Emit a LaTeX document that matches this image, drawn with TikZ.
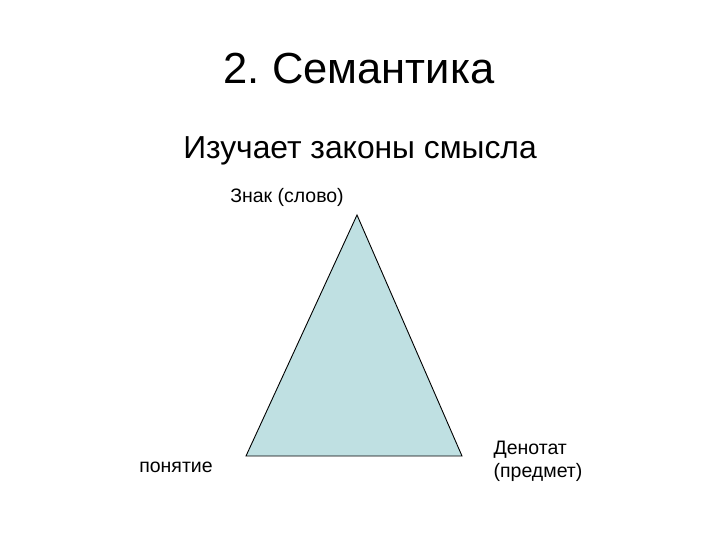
\documentclass[tikz,border=0pt]{standalone}
\usepackage{fontspec}
\setmainfont{Liberation Sans}
\usepackage{xcolor}
\usepackage{tikz}
\usetikzlibrary{positioning}

\definecolor{triblue}{RGB}{191,224,226}
\frenchspacing

\begin{document}
\begin{tikzpicture}[
        x=1pt, y=-1pt,
        title/.style={font=\fontsize{43.5}{52}\selectfont},
        subtitle/.style={font=\fontsize{31.8}{36}\selectfont},
        label/.style={font=\fontsize{19.5}{23}\selectfont, align=left, inner sep=0pt},
        tri/.style={draw, fill=triblue, line width=0.9pt}
    ]
        \useasboundingbox (0,0) rectangle (720,540);
        % heading
        \node [title] (heading) at (359,69) {2. Семантика};
        \node [subtitle] (subject) at (360,151) {Изучает законы смысла};
        % triangle of meaning
        \coordinate (apex) at (357,215);
        \coordinate (leftc) at (246,456);
        \coordinate (rightc) at (462,456);
        \path [tri] (apex) -- (leftc) -- (rightc) -- cycle;
        \node [label] (sign) at (287,197) {Знак (слово)};
        \node [label] (concept) at (176,467) {понятие};
        \node [label] (denotat) at (538,461) {Денотат\\(предмет)};
    \end{tikzpicture}
\end{document}
